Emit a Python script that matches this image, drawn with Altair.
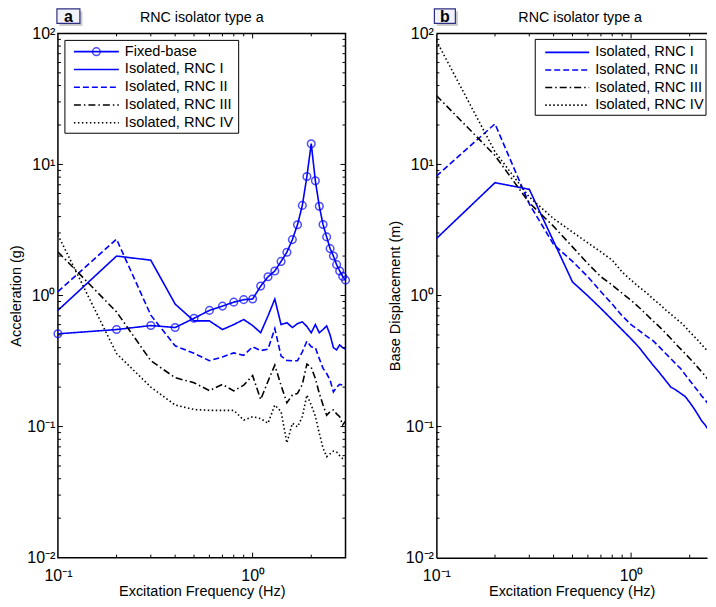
import math
import altair as alt
import pandas as pd

# ---------------- data ----------------
freq = [0.1, 0.2, 0.3, 0.4, 0.5, 0.6, 0.7, 0.8, 0.9, 1.0,
        1.1, 1.2, 1.3, 1.4, 1.5, 1.6, 1.7, 1.8, 1.9, 2.0,
        2.1, 2.2, 2.3, 2.4, 2.5, 2.6, 2.7, 2.8, 2.9, 3.0]

series_names = ["Fixed-base", "Isolated, RNC I", "Isolated, RNC II",
                "Isolated, RNC III", "Isolated, RNC IV"]
series_colors = ["#0000ff", "#0000ff", "#0000ff", "#000000", "#000000"]
series_dashes = [[1, 0], [1, 0], [6, 3], [7, 3, 1.5, 3], [1.5, 2.5]]

acc_fixed = [0.51, 0.55, 0.59, 0.57, 0.67, 0.77, 0.83, 0.89, 0.93, 0.94,
             1.18, 1.39, 1.54, 1.82, 2.14, 2.67, 3.47, 4.87, 8.1, 14.4,
             7.5, 4.8, 3.48, 2.8, 2.28, 2.0, 1.72, 1.54, 1.40, 1.31]
acc_rnc1 = [0.77, 2.0, 1.86, 0.86, 0.64, 0.64, 0.55, 0.60, 0.656, 0.59,
            0.52, 0.70, 0.94, 0.60, 0.62, 0.57, 0.61, 0.63, 0.58, 0.52,
            0.60, 0.52, 0.55, 0.587, 0.50, 0.40, 0.385, 0.42, 0.40, 0.39]
acc_rnc2 = [1.07, 2.69, 0.708, 0.413, 0.362, 0.318, 0.34, 0.365, 0.35, 0.406,
            0.38, 0.39, 0.56, 0.345, 0.32, 0.318, 0.318, 0.372, 0.448, 0.406,
            0.40, 0.33, 0.278, 0.254, 0.226, 0.184, 0.20, 0.21, 0.207, 0.204]
acc_rnc3 = [2.15, 0.75, 0.318, 0.236, 0.216, 0.188, 0.21, 0.187, 0.207, 0.245,
            0.161, 0.222, 0.294, 0.206, 0.152, 0.174, 0.179, 0.21, 0.30, 0.283,
            0.233, 0.179, 0.146, 0.122, 0.13, 0.134, 0.125, 0.119, 0.103, 0.11]
acc_rnc4 = [2.9, 0.361, 0.2, 0.146, 0.135, 0.133, 0.133, 0.133, 0.112, 0.119,
            0.115, 0.106, 0.146, 0.13, 0.075, 0.106, 0.0995, 0.119, 0.174, 0.146,
            0.12, 0.089, 0.0685, 0.059, 0.062, 0.065, 0.064, 0.06, 0.057, 0.056]

freq_b = freq[:27]
disp_rnc1 = [2.72, 7.26, 6.46, 2.59, 1.27, 0.993, 0.796, 0.652, 0.547, 0.467,
             0.401, 0.34, 0.293, 0.257, 0.226, 0.2, 0.19, 0.179, 0.169, 0.153,
             0.138, 0.124, 0.111, 0.103, 0.094, 0.086, 0.079]
disp_rnc2 = [8.15, 20.4, 5.0, 2.45, 1.82, 1.39, 1.07, 0.86, 0.70, 0.60,
             0.54, 0.49, 0.45, 0.404, 0.363, 0.33, 0.30, 0.276, 0.248, 0.225,
             0.205, 0.188, 0.172, 0.16, 0.147, 0.136, 0.127]
disp_rnc3 = [33.6, 11.7, 5.1, 3.37, 2.35, 1.75, 1.39, 1.2, 1.04, 0.92,
             0.81, 0.716, 0.637, 0.576, 0.519, 0.47, 0.425, 0.39, 0.359, 0.331,
             0.307, 0.283, 0.262, 0.244, 0.226, 0.213, 0.204]
disp_rnc4 = [88.0, 12.5, 5.64, 3.86, 3.05, 2.52, 2.15, 1.86, 1.51, 1.31,
             1.16, 1.05, 0.94, 0.86, 0.78, 0.72, 0.668, 0.622, 0.576, 0.528,
             0.49, 0.457, 0.423, 0.395, 0.368, 0.347, 0.327]

panel_title = "RNC isolator type a"
x_title = "Excitation Frequency (Hz)"
y_title_a = "Acceleration (g)"
y_title_b = "Base Displacement (m)"
tick_exponents = [-2, -1, 0, 1, 2]
sup = {"-": "\u207b", "0": "\u2070", "1": "\u00b9", "2": "\u00b2"}

# ---------------- layout ----------------
W_A, W_B, H = 288, 271, 525
XMAX_A = 3.0
XMAX_B = 0.1 * 10 ** (W_B * math.log10(XMAX_A / 0.1) / W_A)
FONT = "Liberation Sans"


def sup_text(e):
    return "10" + "".join(sup[c] for c in str(e))


label_expr = ""
for e in tick_exponents[:-1]:
    label_expr += f"round(log(datum.value)/LN10) == {e} ? '{sup_text(e)}' : "
label_expr += f"'{sup_text(tick_exponents[-1])}'"

x_major = [1.0]
x_minor = [0.2, 0.3, 0.4, 0.5, 0.6, 0.7, 0.8, 0.9, 2.0]
y_major = [0.1, 1.0, 10.0]
y_minor = [k * 10.0 ** n for n in range(-2, 2) for k in range(2, 10)]

color_enc = alt.Color("series:N", scale=alt.Scale(domain=series_names, range=series_colors), legend=None)
dash_enc = alt.StrokeDash("series:N", scale=alt.Scale(domain=series_names, range=series_dashes), legend=None)
one = pd.DataFrame({"k": [0]})


def long_df(fr, names, arrays):
    rows = []
    for n, arr in zip(names, arrays):
        for f, v in zip(fr, arr):
            rows.append({"series": n, "f": f, "v": v})
    return pd.DataFrame(rows)


def ticks(xs, ys, xax, yax, width, right_side):
    layers = []
    for vals, L in ((x_major, 5), (x_minor, 3)):
        d = pd.DataFrame({"t": [v for v in vals if v < xs.domain[1]]})
        for y0, y1 in ((H, H - L), (0, L)):
            layers.append(alt.Chart(d).mark_rule(color="black", strokeWidth=1).encode(
                x=alt.X("t:Q", scale=xs, axis=xax), y=alt.value(y0), y2=alt.value(y1)))
    for vals, L in ((y_major, 5), (y_minor, 3)):
        d = pd.DataFrame({"t": vals})
        sides = [(0, L)] + ([(width, width - L)] if right_side else [])
        for x0, x1 in sides:
            layers.append(alt.Chart(d).mark_rule(color="black", strokeWidth=1).encode(
                y=alt.Y("t:Q", scale=ys, axis=yax), x=alt.value(x0), x2=alt.value(x1)))
    return layers


def legend(names, box, y0, step, sx0, sx1, tx, circle_x=None):
    bx0, bx1, by0, by1 = box
    ld = pd.DataFrame({"series": names, "py": [y0 + i * step for i in range(len(names))]})
    py = alt.Y("py:Q", scale=None, axis=None)
    layers = [
        alt.Chart(one).mark_rect(fill="white", stroke="black", strokeWidth=1).encode(
            x=alt.value(bx0), x2=alt.value(bx1), y=alt.value(by0), y2=alt.value(by1)),
        alt.Chart(ld).mark_rule(strokeWidth=1.6).encode(
            x=alt.value(sx0), x2=alt.value(sx1), y=py, color=color_enc, strokeDash=dash_enc),
        alt.Chart(ld).mark_text(align="left", baseline="middle", font=FONT, fontSize=14.6, color="black").encode(
            x=alt.value(tx), y=py, text="series:N"),
    ]
    if circle_x is not None:
        layers.append(alt.Chart(ld.iloc[:1]).mark_point(shape="circle", filled=False, size=58,
                                                        strokeWidth=1.5, color="#0000ff").encode(
            x=alt.value(circle_x), y=py))
    return layers


def letter(txt, x0, x1, y0, y1, width, dx):
    return [
        alt.Chart(one).mark_rect(fill="#9a9a9a", opacity=0.55).encode(
            x=alt.value(x0 + 2.5), x2=alt.value(x1 + 2.5), y=alt.value(y0 + 2.5), y2=alt.value(y1 + 2.5)),
        alt.Chart(one).mark_rect(fill="#f2f2fc", stroke="#2e2e80", strokeWidth=1.2).encode(
            x=alt.value(x0), x2=alt.value(x1), y=alt.value(y0), y2=alt.value(y1)),
        alt.Chart(one).mark_text(text=txt, font=FONT, fontSize=16, fontWeight="bold", color="black",
                                 align="center", baseline="middle").encode(
            x=alt.value((x0 + x1) / 2), y=alt.value((y0 + y1) / 2 + 0.5)),
        alt.Chart(one).mark_text(text=panel_title, font=FONT, fontSize=14.3, color="black",
                                 align="center", baseline="alphabetic").encode(
            x=alt.value(width / 2 + dx), y=alt.value(-11.5)),
    ]


def x_axis(domain_line):
    return alt.Axis(values=[0.1, 1.0], labelExpr=label_expr, title=x_title, ticks=False,
                    domain=domain_line, domainColor="black", domainWidth=1.5, grid=False,
                    labelFlush=False, labelOverlap=False, labelPadding=10, titlePadding=1)


def y_axis(title, domain_line):
    return alt.Axis(values=[10.0 ** e for e in tick_exponents], labelExpr=label_expr, title=title,
                    ticks=False, domain=domain_line, domainColor="black", domainWidth=1.5,
                    grid=False, labelFlush=False, labelOverlap=False, labelPadding=3, titlePadding=3)


# ---------------- panel a ----------------
xs_a = alt.Scale(type="log", domain=[0.1, XMAX_A])
ys = alt.Scale(type="log", domain=[0.01, 100])
xax_a = x_axis(False)
yax_a = y_axis(y_title_a, False)
df_a = long_df(freq, series_names, [acc_fixed, acc_rnc1, acc_rnc2, acc_rnc3, acc_rnc4])

lines_a = alt.Chart(df_a).mark_line(strokeWidth=1.6, clip=True).encode(
    x=alt.X("f:Q", scale=xs_a, axis=xax_a),
    y=alt.Y("v:Q", scale=ys, axis=yax_a),
    color=color_enc, strokeDash=dash_enc)
points_a = alt.Chart(df_a[df_a.series == series_names[0]]).mark_point(
    shape="circle", filled=False, size=58, strokeWidth=1.5, color="#0000ff").encode(
    x=alt.X("f:Q", scale=xs_a, axis=xax_a), y=alt.Y("v:Q", scale=ys, axis=yax_a))

panel_a = alt.layer(
    lines_a, points_a, *ticks(xs_a, ys, xax_a, yax_a, W_A, True),
    *legend(series_names, (7, 181, 7, 100), 18.3, 17.8, 16, 61, 67, circle_x=38.5),
    *letter("a", -1, 22, -24.5, -10, W_A, 0),
).properties(width=W_A, height=H)

# ---------------- panel b ----------------
xs_b = alt.Scale(type="log", domain=[0.1, XMAX_B])
xax_b = x_axis(True)
yax_b = y_axis(y_title_b, True)
df_b = long_df(freq_b, series_names[1:], [disp_rnc1, disp_rnc2, disp_rnc3, disp_rnc4])

lines_b = alt.Chart(df_b).mark_line(strokeWidth=1.6, clip=True).encode(
    x=alt.X("f:Q", scale=xs_b, axis=xax_b),
    y=alt.Y("v:Q", scale=ys, axis=yax_b),
    color=color_enc, strokeDash=dash_enc)
top_line_b = alt.Chart(one).mark_rule(color="black", strokeWidth=1.5).encode(
    x=alt.value(0), x2=alt.value(W_B), y=alt.value(0))

panel_b = alt.layer(
    lines_b, top_line_b, *ticks(xs_b, ys, xax_b, yax_b, W_B, False),
    *legend(series_names[1:], (99, 270, 6, 82), 19, 17.6, 109, 153, 159),
    *letter("b", -2, 19, -24.5, -10, W_B, 8.5),
).properties(width=W_B, height=H, view=alt.ViewBackground(stroke="transparent"))

chart = alt.hconcat(panel_a, panel_b, spacing=33).properties(
    padding={"left": 0, "top": -1, "right": -1, "bottom": 0}
).configure(
    font=FONT
).configure_view(
    stroke="black", strokeWidth=1.5
).configure_axis(
    labelFont=FONT, labelFontSize=16, labelColor="black",
    titleFont=FONT, titleFontSize=14.5, titleFontWeight="normal", titleColor="black"
)

chart.save("out.html", embed_options={"renderer": "svg", "actions": False})
